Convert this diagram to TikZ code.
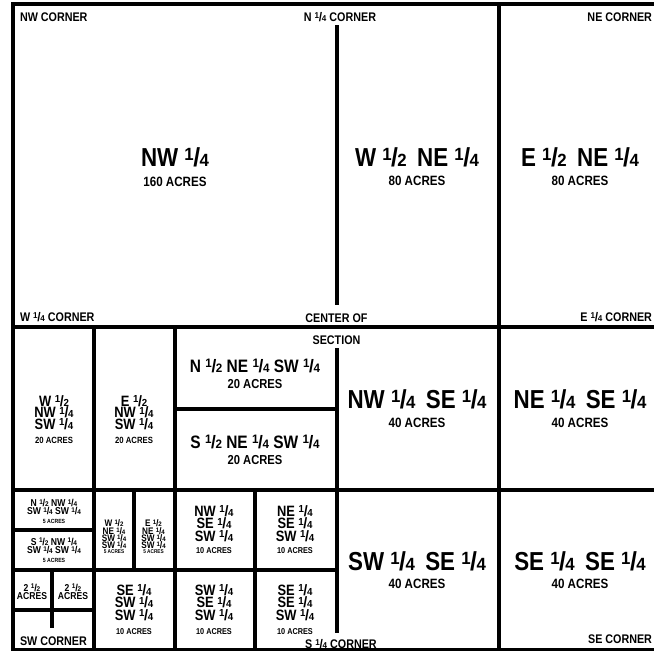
\documentclass[tikz,border=0pt]{standalone}
\usepackage{fontspec}
\usepackage{graphicx}
\setmainfont{Liberation Sans}[FakeStretch=0.86]
\newfontfamily\fracfont{Liberation Sans}[FakeStretch=0.95]
\newcommand\fr[2]{\smash{\fracfont\bfseries\raisebox{0.23em}{\scalebox{0.68}{#1}}\kern-0.02em/\kern-0.02em\scalebox{0.68}{#2}}}
\newcommand\sz[1]{\fontsize{#1}{#1}\selectfont\bfseries}
\tikzset{
  lbl/.style={anchor=base, inner sep=0pt, outer sep=0pt, text=black},
  lblw/.style={lbl, anchor=base west},
  lble/.style={lbl, anchor=base east},
  bnd/.style={line width=4pt, draw=black}
}
\newcommand\T[5][lbl]{\node[#1,font=\sz{#4}] (#2) at (#3) {#5};}
\begin{document}
\begin{tikzpicture}[x=1pt,y=-1pt]
\useasboundingbox (0,0) rectangle (654,651);
\clip (0,0) rectangle (654,651);
\fill[white] (0,0) rectangle (654,651);
% section lines
\draw[bnd] (13,3.5) rectangle (661,650);
\draw[bnd] (336.5,25) -- (336.5,305);
\draw[bnd] (336.5,348) -- (336.5,633);
\draw[bnd] (499,3.5) -- (499,650);
\draw[bnd] (13,327) -- (661,327);
\draw[bnd] (13,489.5) -- (661,489.5);
\draw[bnd] (13,570.3) -- (336.5,570.3);
\draw[bnd] (93.7,327) -- (93.7,650);
\draw[bnd] (174.5,327) -- (174.5,650);
\draw[bnd] (255.3,489.5) -- (255.3,650);
\draw[bnd] (174.5,408.7) -- (336.5,408.7);
\draw[bnd] (13,530.3) -- (93.7,530.3);
\draw[bnd] (133.7,489.5) -- (133.7,570.3);
\draw[bnd] (13,610.3) -- (93.7,610.3);
\draw[bnd] (52,570.3) -- (52,628);
% corner labels
\T[lblw]{nwc}{20,21}{12.5}{NW CORNER}
\T{nqc}{340,21}{12.5}{N \fr{1}{4} CORNER}
\T[lble]{nec}{652,21}{12.5}{NE CORNER}
\T[lblw]{wqc}{20,321}{12.5}{W \fr{1}{4} CORNER}
\T{cen}{336.5,322}{12.5}{CENTER OF}
\T{sect}{336.5,344}{12.5}{SECTION}
\T[lble]{eqc}{652,321}{12.5}{E \fr{1}{4} CORNER}
\T[lblw]{swc}{20,645}{12.5}{SW CORNER}
\T{sqc}{341,648}{12.5}{S \fr{1}{4} CORNER}
\T[lble]{sec}{652,643}{12.5}{SE CORNER}
% large parcels
\T{nw}{175,166}{26}{NW \fr{1}{4}}
\T{nwa}{175,186}{13.5}{160 ACRES}
\T{wne}{417,166}{26}{W \fr{1}{2}\hspace{0.4em}NE \fr{1}{4}}
\T{wnea}{417,185}{13.5}{80 ACRES}
\T{ene}{580,166}{26}{E \fr{1}{2}\hspace{0.4em}NE \fr{1}{4}}
\T{enea}{580,185}{13.5}{80 ACRES}
\T{nwse}{417,408}{26}{NW \fr{1}{4}\hspace{0.4em}SE \fr{1}{4}}
\T{nwsea}{417,427}{13.5}{40 ACRES}
\T{nese}{580,408}{26}{NE \fr{1}{4}\hspace{0.4em}SE \fr{1}{4}}
\T{nesea}{580,427}{13.5}{40 ACRES}
\T{swse}{417,570}{26}{SW \fr{1}{4}\hspace{0.4em}SE \fr{1}{4}}
\T{swsea}{417,588}{13.5}{40 ACRES}
\T{sese}{580,570}{26}{SE \fr{1}{4}\hspace{0.4em}SE \fr{1}{4}}
\T{sesea}{580,588}{13.5}{40 ACRES}
% NE SW
\T{nnesw}{255,372}{18}{N \fr{1}{2} NE \fr{1}{4} SW \fr{1}{4}}
\T{nneswa}{255,388}{13}{20 ACRES}
\T{snesw}{255,448}{18}{S \fr{1}{2} NE \fr{1}{4} SW \fr{1}{4}}
\T{sneswa}{255,464}{13}{20 ACRES}
% W/E half NW SW
\T{wnwa}{54,406}{15}{W \fr{1}{2}}
\T{wnwb}{54,417.5}{15}{NW \fr{1}{4}}
\T{wnwc}{54,429}{15}{SW \fr{1}{4}}
\T{wnwd}{54,443}{9}{20 ACRES}
\T{enwa}{134,406}{15}{E \fr{1}{2}}
\T{enwb}{134,417.5}{15}{NW \fr{1}{4}}
\T{enwc}{134,429}{15}{SW \fr{1}{4}}
\T{enwd}{134,443}{9}{20 ACRES}
% NW SW SW halves
\T{nnwa}{54,506.7}{10}{N \fr{1}{2} NW \fr{1}{4}}
\T{nnwb}{54,514.3}{10}{SW \fr{1}{4} SW \fr{1}{4}}
\T{nnwc}{54,523.3}{6}{5 ACRES}
\T{snwa}{54,545}{10}{S \fr{1}{2} NW \fr{1}{4}}
\T{snwb}{54,553.3}{10}{SW \fr{1}{4} SW \fr{1}{4}}
\T{snwc}{54,562.7}{6}{5 ACRES}
% NE SW SW halves
\T{wnea1}{114,526.7}{9.5}{W \fr{1}{2}}
\T{wnea2}{114,534.3}{9.5}{NE \fr{1}{4}}
\T{wnea3}{114,541.7}{9.5}{SW \fr{1}{4}}
\T{wnea4}{114,548.3}{9.5}{SW \fr{1}{4}}
\T{wnea5}{114,553.8}{5.5}{5 ACRES}
\T{enea1}{153.5,526.7}{9.5}{E \fr{1}{2}}
\T{enea2}{153.5,534.3}{9.5}{NE \fr{1}{4}}
\T{enea3}{153.5,541.7}{9.5}{SW \fr{1}{4}}
\T{enea4}{153.5,548.3}{9.5}{SW \fr{1}{4}}
\T{enea5}{153.5,553.8}{5.5}{5 ACRES}
% 2 1/2 acres
\T{tha}{32,591}{10}{2 \fr{1}{2}}
\T{thb}{32,599}{10}{ACRES}
\T{tia}{73,591}{10}{2 \fr{1}{2}}
\T{tib}{73,599}{10}{ACRES}
% 10 acre parcels
\T{ssa}{134,595}{15}{SE \fr{1}{4}}
\T{ssb}{134,607.5}{15}{SW \fr{1}{4}}
\T{ssc}{134,620}{15}{SW \fr{1}{4}}
\T{ssd}{134,634}{8.5}{10 ACRES}
\T{nsa}{214,516}{15}{NW \fr{1}{4}}
\T{nsb}{214,528.5}{15}{SE \fr{1}{4}}
\T{nsc}{214,541}{15}{SW \fr{1}{4}}
\T{nsd}{214,553.5}{8.5}{10 ACRES}
\T{esa}{295,516}{15}{NE \fr{1}{4}}
\T{esb}{295,528.5}{15}{SE \fr{1}{4}}
\T{esc}{295,541}{15}{SW \fr{1}{4}}
\T{esd}{295,553.5}{8.5}{10 ACRES}
\T{wsa}{214,595}{15}{SW \fr{1}{4}}
\T{wsb}{214,607.5}{15}{SE \fr{1}{4}}
\T{wsc}{214,620}{15}{SW \fr{1}{4}}
\T{wsd}{214,634}{8.5}{10 ACRES}
\T{xsa}{295,595}{15}{SE \fr{1}{4}}
\T{xsb}{295,607.5}{15}{SE \fr{1}{4}}
\T{xsc}{295,620}{15}{SW \fr{1}{4}}
\T{xsd}{295,634}{8.5}{10 ACRES}
\end{tikzpicture}
\end{document}
